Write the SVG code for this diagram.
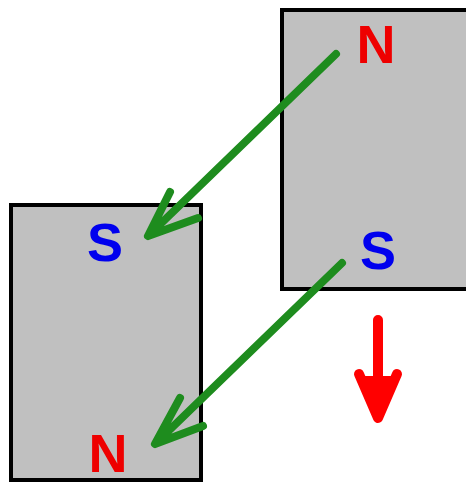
<svg xmlns="http://www.w3.org/2000/svg" width="466" height="483" viewBox="0 0 466 483">
<style>
.mag{fill:#c0c0c0;stroke:#000;stroke-width:4}
.lbl{font-family:"Liberation Sans",Arial,sans-serif;font-weight:bold;font-size:54px;text-anchor:middle}
.n{fill:#ee0000}
.s{fill:#0000ee}
.g{fill:none;stroke:#1e8c1e;stroke-width:8;stroke-linecap:round;stroke-linejoin:round}
.r{fill:none;stroke:#ff0000;stroke-width:10;stroke-linecap:round;stroke-linejoin:round}
</style>
<rect width="466" height="483" fill="#fff"/>
<g id="magnet-right">
<rect class="mag" x="282" y="10" width="190" height="279"/>
<text class="lbl n" x="376" y="63">N</text>
<text class="lbl s" x="378" y="269">S</text>
</g>
<g id="magnet-left">
<rect class="mag" x="11" y="205" width="190" height="275"/>
<text class="lbl s" x="105" y="261">S</text>
<text class="lbl n" x="108" y="472">N</text>
</g>
<g id="connectors">
<path class="g" d="M336,54 L148,236 M170,192 L148,236 L198,218"/>
<path class="g" d="M342,263 L155,444 M180,398 L155,444 L203,426"/>
<path class="r" d="M378,320 L378,418 M359,374 L378,418 L397,374"/>
<path d="M362,376 L378,416 L394,376 Z" fill="#ff0000"/>
</g>
</svg>
